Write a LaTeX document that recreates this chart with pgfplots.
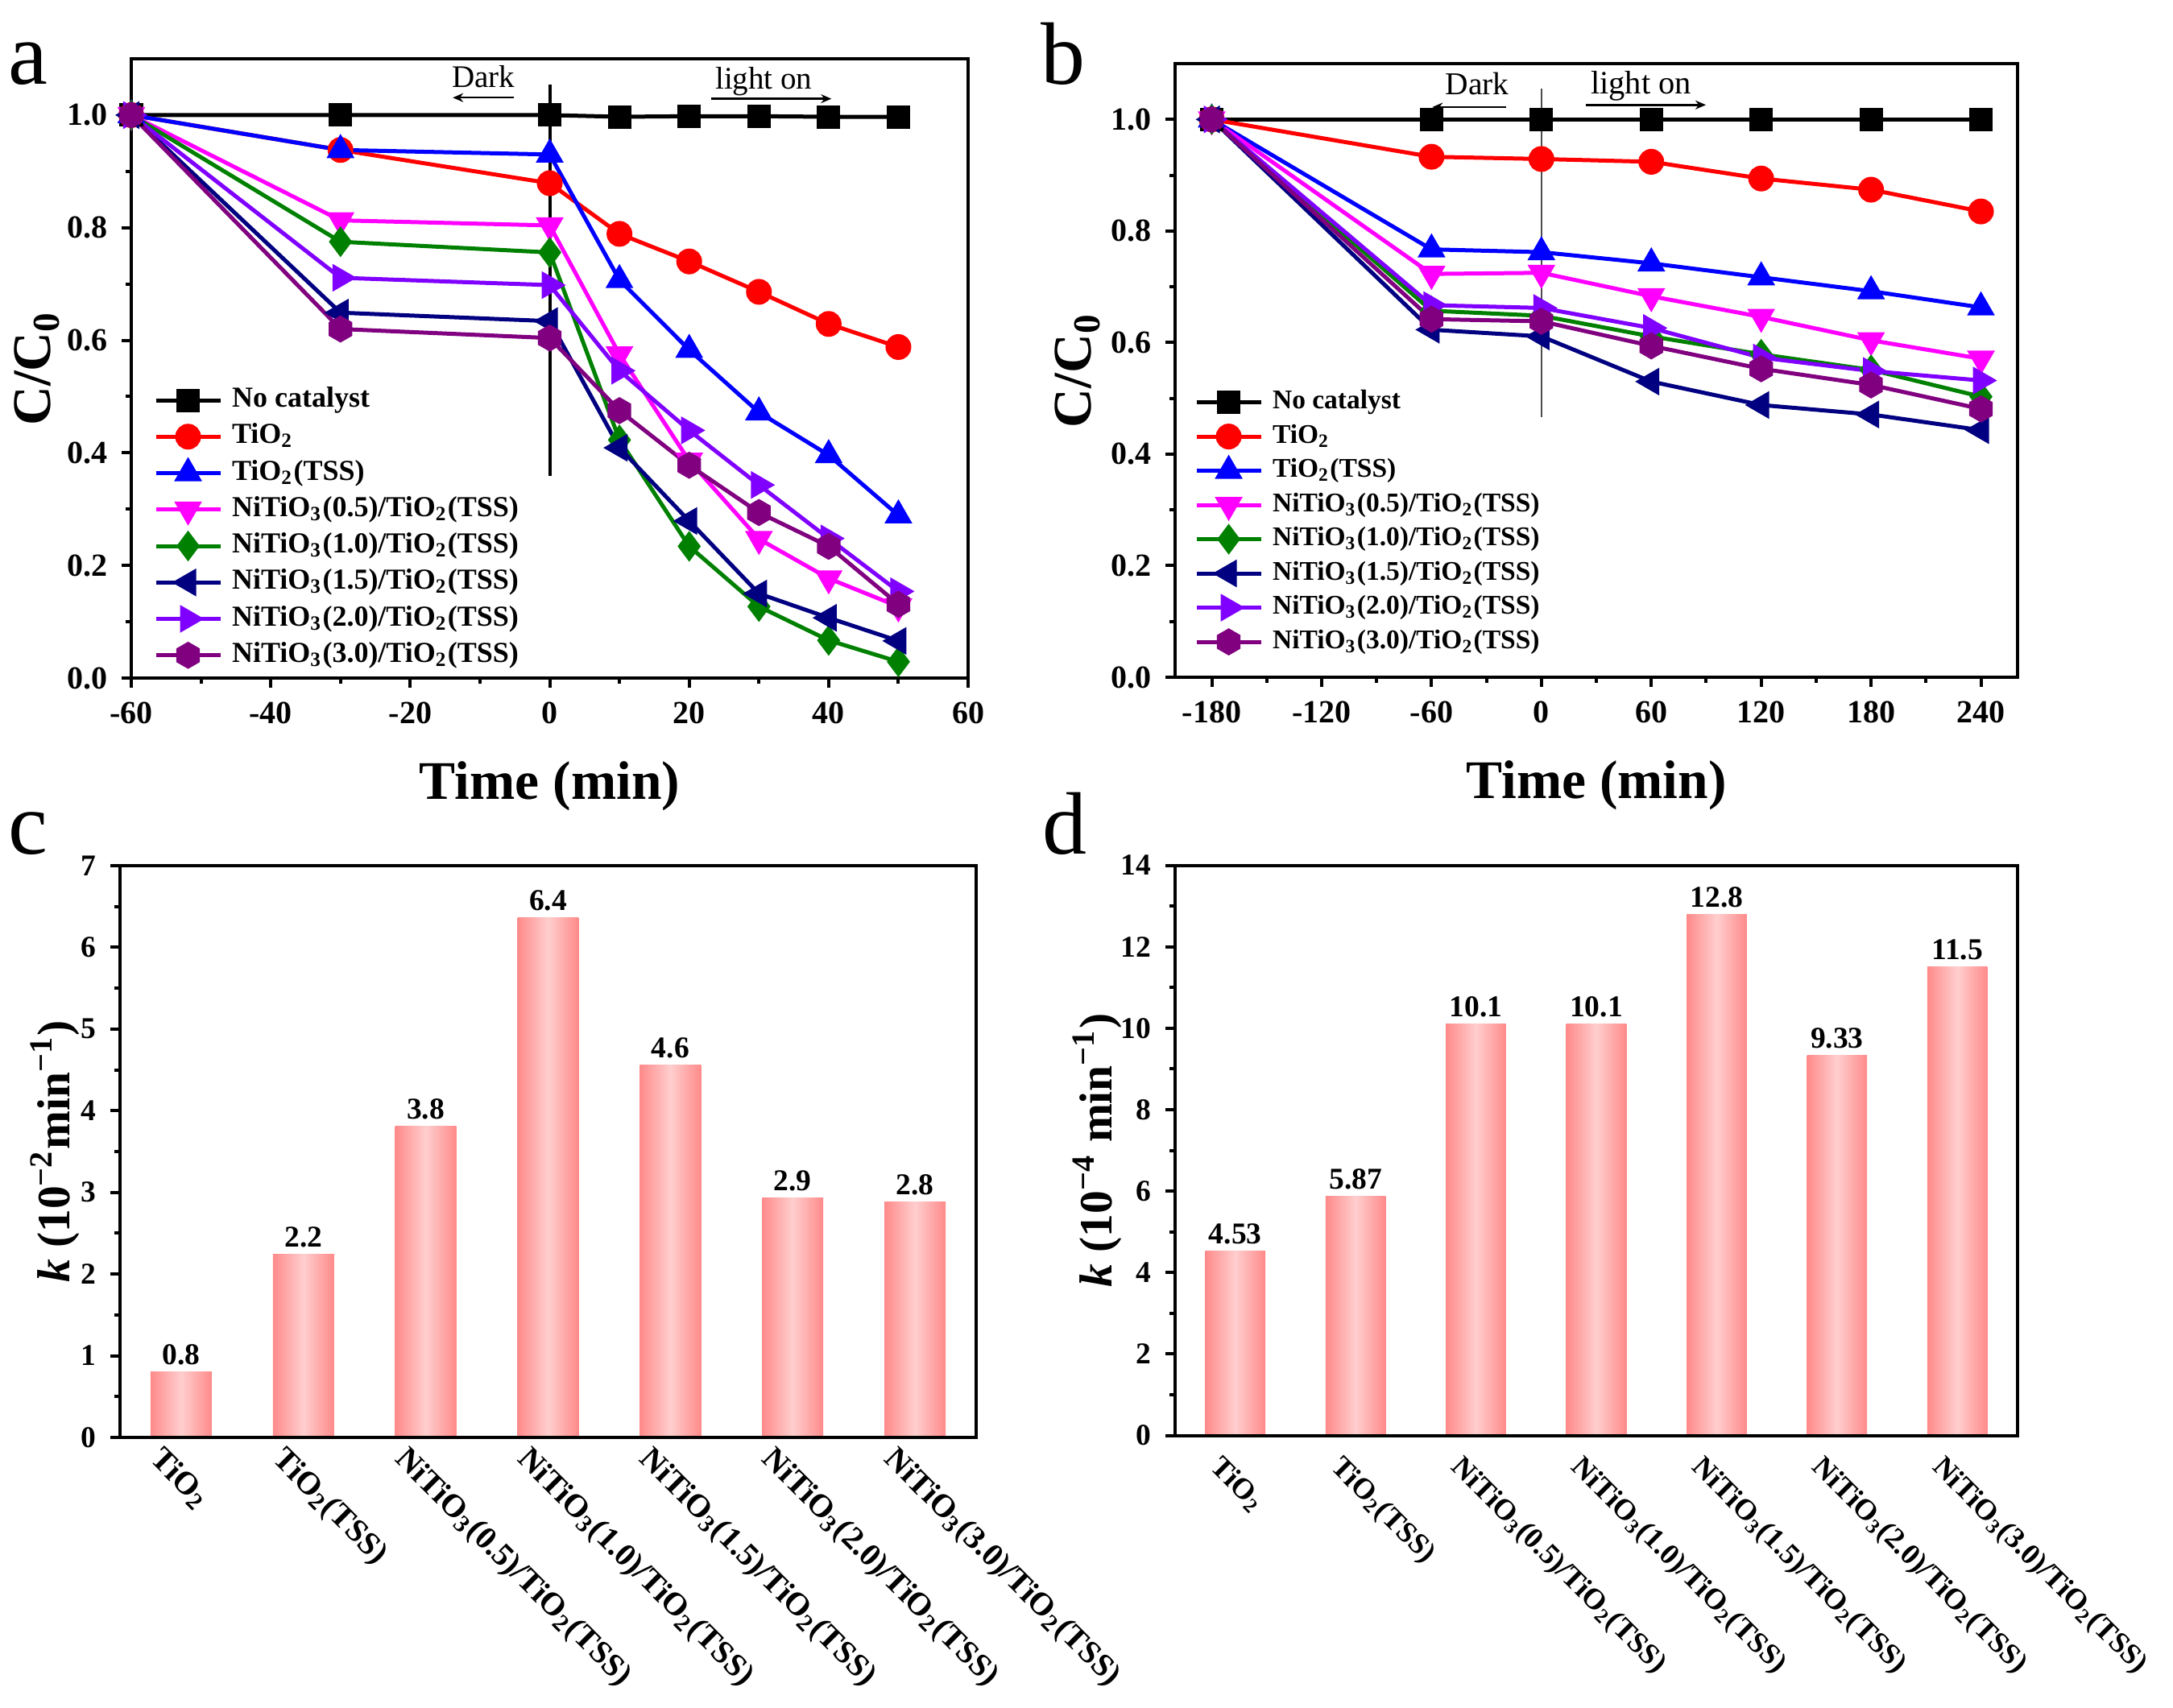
\documentclass[border=0pt]{standalone}
\usepackage{fontspec}
\setmainfont{Liberation Serif}
\usepackage{pgfplots}
\pgfplotsset{compat=1.18}
\usetikzlibrary{arrows.meta}

\definecolor{cNavy}{RGB}{0,0,128}
\definecolor{cGreen}{RGB}{0,128,0}
\definecolor{cViolet}{RGB}{128,0,255}
\definecolor{cPurple}{RGB}{128,0,128}
\definecolor{cMagenta}{RGB}{255,0,255}
\definecolor{cRed}{RGB}{255,0,0}
\definecolor{cBlue}{RGB}{0,0,255}
\definecolor{barEdge}{RGB}{255,138,138}
\definecolor{barMid}{RGB}{255,206,206}

% filled hexagon, pointy top
\pgfdeclareplotmark{hexagon*}{%
  \pgfpathmoveto{\pgfpointpolar{90}{\pgfplotmarksize}}%
  \pgfpathlineto{\pgfpointpolar{150}{\pgfplotmarksize}}%
  \pgfpathlineto{\pgfpointpolar{210}{\pgfplotmarksize}}%
  \pgfpathlineto{\pgfpointpolar{270}{\pgfplotmarksize}}%
  \pgfpathlineto{\pgfpointpolar{330}{\pgfplotmarksize}}%
  \pgfpathlineto{\pgfpointpolar{30}{\pgfplotmarksize}}%
  \pgfpathclose
  \pgfusepathqfillstroke}

\pgfplotsset{
  common/.style={
    scale only axis, clip=false,
    axis line style={line width=0.8pt},
    tick style={black, line width=0.8pt},
    tick align=outside, xtick pos=left, ytick pos=left,
    major tick length=2.4pt, minor tick length=1.4pt,
    /pgf/number format/assume math mode=true,
  },
  curves/.style={
    common,
    tick label style={font=\fontsize{8}{9}\selectfont\bfseries},
    minor x tick num=1, minor y tick num=1,
    ymin=0, ymax=1.1, ytick={0,0.2,...,1.0},
    yticklabel style={/pgf/number format/.cd, fixed, fixed zerofill, precision=1},
    xlabel={Time (min)}, ylabel={C/C\textsubscript{0}},
    label style={font=\fontsize{13.5}{14}\selectfont\bfseries},
    xlabel style={at={(axis description cs:0.5,0)}, anchor=base, yshift=-30pt},
    legend cell align=left,
    legend image code/.code={\draw[mark repeat=2, mark phase=2, ##1] plot coordinates {(0pt,0pt) (8pt,0pt) (16pt,0pt)};},
  },
  bars/.style={
    common, axis on top,
    xmin=-0.5, xmax=6.5, ymin=0,
    xtick={0,...,6}, minor y tick num=1,
    xtick style={draw=none},
    yticklabel style={font=\fontsize{7.5}{8}\selectfont\bfseries},
    label style={font=\fontsize{11.5}{12}\selectfont\bfseries},
  },
  s0/.style={black, line width=1pt, mark=square*, mark size=2.4pt},
  s1/.style={cRed, line width=1pt, mark=*, mark size=2.7pt},
  s2/.style={cBlue, line width=1pt, mark=triangle*, mark size=3pt},
  s3/.style={cMagenta, line width=1pt, mark=triangle*, mark size=3pt, mark options={rotate=180}},
  s4/.style={cGreen, line width=1pt, mark=diamond*, mark size=3pt},
  s5/.style={cNavy, line width=1pt, mark=triangle*, mark size=3pt, mark options={rotate=90}},
  s6/.style={cViolet, line width=1pt, mark=triangle*, mark size=3pt, mark options={rotate=-90}},
  s7/.style={cPurple, line width=1pt, mark=hexagon*, mark size=2.8pt},
  % one bar per \addplot so that each bar gets its own gradient
  shadebar/.style={ybar, bar shift=0pt, bar width=0.5, draw=none,
    left color=barEdge, right color=barEdge, middle color=barMid},
  vals/.style={draw=none, nodes near coords, point meta=explicit symbolic,
    every node near coord/.append style={font=\fontsize{7.5}{8}\selectfont\bfseries, anchor=south, inner sep=0pt, yshift=1.5pt}},
}

\begin{document}
\begin{tikzpicture}
\useasboundingbox (0,0) rectangle (539.6pt,424pt);

\node[font=\fontsize{22}{22}\selectfont, anchor=base] at (6.9pt,403pt) {a};
\node[font=\fontsize{22}{22}\selectfont, anchor=base] at (264pt,403pt) {b};
\node[font=\fontsize{22}{22}\selectfont, anchor=base] at (7pt,212pt) {c};
\node[font=\fontsize{22}{22}\selectfont, anchor=base] at (264.4pt,212pt) {d};

% ---- a ----
\begin{axis}[curves, at={(32.6pt,255.6pt)}, anchor=south west,
  width=207.8pt, height=153.8pt,
  xmin=-60, xmax=60, xtick={-60,-40,...,60},
  ylabel style={at={(axis description cs:-0.1126,0.5)}, anchor=center},
  legend style={draw=none, fill=none, at={(0.027,0.474)}, anchor=north west,
    inner sep=0pt, outer sep=0pt, row sep=1.25pt,
    font=\fontsize{7.2}{8}\selectfont\bfseries,
    nodes={inner sep=0.6pt, text height=5pt, text depth=1.6pt},
    /tikz/every odd column/.append style={column sep=1.8pt}},
]
\draw[line width=0.8pt] (axis cs:0,0.359) -- (axis cs:0,1.054);
\node[font=\fontsize{7.8}{9}\selectfont] at (axis cs:-9.5,1.068) {Dark};
\draw[line width=0.5pt, -{Stealth[length=2.6pt,width=2.2pt]}] (axis cs:-5.1,1.031) -- (axis cs:-13.9,1.031);
\node[font=\fontsize{7.8}{9}\selectfont] at (axis cs:30.7,1.060) {light on};
\draw[line width=0.5pt, -{Stealth[length=2.6pt,width=2.2pt]}] (axis cs:23.1,1.029) -- (axis cs:40.4,1.029);

\addplot[s0] coordinates {(-60,1.0)(-30,1.0)(0,1.0)(10,0.997)(20,0.998)(30,0.998)(40,0.997)(50,0.997)};
\addlegendentry{No catalyst}
\addplot[s1] coordinates {(-60,1.0)(-30,0.938)(0,0.879)(10,0.789)(20,0.740)(30,0.686)(40,0.629)(50,0.588)};
\addlegendentry{TiO\textsubscript{2}}
\addplot[s2] coordinates {(-60,1.0)(-30,0.938)(0,0.930)(10,0.707)(20,0.583)(30,0.472)(40,0.396)(50,0.289)};
\addlegendentry{TiO\textsubscript{2}(TSS)}
\addplot[s3] coordinates {(-60,1.0)(-30,0.813)(0,0.804)(10,0.575)(20,0.386)(30,0.247)(40,0.177)(50,0.127)};
\addlegendentry{NiTiO\textsubscript{3}(0.5)/TiO\textsubscript{2}(TSS)}
\addplot[s4] coordinates {(-60,1.0)(-30,0.775)(0,0.756)(10,0.423)(20,0.234)(30,0.127)(40,0.067)(50,0.029)};
\addlegendentry{NiTiO\textsubscript{3}(1.0)/TiO\textsubscript{2}(TSS)}
\addplot[s5] coordinates {(-60,1.0)(-30,0.649)(0,0.634)(10,0.409)(20,0.279)(30,0.150)(40,0.107)(50,0.066)};
\addlegendentry{NiTiO\textsubscript{3}(1.5)/TiO\textsubscript{2}(TSS)}
\addplot[s6] coordinates {(-60,1.0)(-30,0.711)(0,0.698)(10,0.546)(20,0.440)(30,0.343)(40,0.248)(50,0.154)};
\addlegendentry{NiTiO\textsubscript{3}(2.0)/TiO\textsubscript{2}(TSS)}
\addplot[s7] coordinates {(-60,1.0)(-30,0.620)(0,0.604)(10,0.475)(20,0.378)(30,0.294)(40,0.234)(50,0.131)};
\addlegendentry{NiTiO\textsubscript{3}(3.0)/TiO\textsubscript{2}(TSS)}
\end{axis}

% ---- b ----
\begin{axis}[curves, at={(291.8pt,255.8pt)}, anchor=south west,
  width=209.2pt, height=152.4pt,
  xmin=-200, xmax=260, xtick={-180,-120,...,240},
  ylabel style={at={(axis description cs:-0.1157,0.5)}, anchor=center},
  legend style={draw=none, fill=none, at={(0.023,0.473)}, anchor=north west,
    inner sep=0pt, outer sep=0pt, row sep=0.9pt,
    font=\fontsize{6.7}{8}\selectfont\bfseries,
    nodes={inner sep=0.6pt, text height=4.8pt, text depth=1.6pt},
    /tikz/every odd column/.append style={column sep=1.8pt}},
]
\draw[line width=0.4pt, black!70] (axis cs:0,0.467) -- (axis cs:0,1.055);
\node[font=\fontsize{7.9}{9}\selectfont] at (axis cs:-35,1.064) {Dark};
\draw[line width=0.5pt, -{Stealth[length=2.6pt,width=2.2pt]}] (axis cs:-19.1,1.022) -- (axis cs:-59.6,1.022);
\node[font=\fontsize{8.1}{9}\selectfont] at (axis cs:54.4,1.060) {light on};
\draw[line width=0.5pt, -{Stealth[length=2.6pt,width=2.2pt]}] (axis cs:24.1,1.026) -- (axis cs:89.8,1.026);

\addplot[s0] coordinates {(-180,1.0)(-60,1.0)(0,1.0)(60,1.0)(120,1.0)(180,1.0)(240,1.0)};
\addlegendentry{No catalyst}
\addplot[s1] coordinates {(-180,1.0)(-60,0.933)(0,0.929)(60,0.924)(120,0.894)(180,0.874)(240,0.835)};
\addlegendentry{TiO\textsubscript{2}}
\addplot[s2] coordinates {(-180,1.0)(-60,0.767)(0,0.762)(60,0.742)(120,0.717)(180,0.692)(240,0.663)};
\addlegendentry{TiO\textsubscript{2}(TSS)}
\addplot[s3] coordinates {(-180,1.0)(-60,0.723)(0,0.725)(60,0.683)(120,0.646)(180,0.604)(240,0.571)};
\addlegendentry{NiTiO\textsubscript{3}(0.5)/TiO\textsubscript{2}(TSS)}
\addplot[s4] coordinates {(-180,1.0)(-60,0.657)(0,0.648)(60,0.611)(120,0.579)(180,0.551)(240,0.503)};
\addlegendentry{NiTiO\textsubscript{3}(1.0)/TiO\textsubscript{2}(TSS)}
\addplot[s5] coordinates {(-180,1.0)(-60,0.623)(0,0.611)(60,0.530)(120,0.488)(180,0.471)(240,0.443)};
\addlegendentry{NiTiO\textsubscript{3}(1.5)/TiO\textsubscript{2}(TSS)}
\addplot[s6] coordinates {(-180,1.0)(-60,0.667)(0,0.662)(60,0.626)(120,0.573)(180,0.549)(240,0.532)};
\addlegendentry{NiTiO\textsubscript{3}(2.0)/TiO\textsubscript{2}(TSS)}
\addplot[s7] coordinates {(-180,1.0)(-60,0.642)(0,0.638)(60,0.594)(120,0.553)(180,0.524)(240,0.481)};
\addlegendentry{NiTiO\textsubscript{3}(3.0)/TiO\textsubscript{2}(TSS)}
\end{axis}

% ---- c ----
\begin{axis}[bars, at={(29.8pt,67pt)}, anchor=south west,
  width=212.6pt, height=142pt,
  ymax=7, ytick={0,...,7},
  xticklabels={TiO\textsubscript{2}, TiO\textsubscript{2}(TSS),
    NiTiO\textsubscript{3}(0.5)/TiO\textsubscript{2}(TSS),
    NiTiO\textsubscript{3}(1.0)/TiO\textsubscript{2}(TSS),
    NiTiO\textsubscript{3}(1.5)/TiO\textsubscript{2}(TSS),
    NiTiO\textsubscript{3}(2.0)/TiO\textsubscript{2}(TSS),
    NiTiO\textsubscript{3}(3.0)/TiO\textsubscript{2}(TSS)},
  xticklabel style={rotate=-45, anchor=north west, inner sep=0pt,
    font=\fontsize{8}{9}\selectfont\bfseries, xshift=-3.4pt, yshift=-2.2pt},
  ylabel={\textit{k} (10\textsuperscript{−2}min\textsuperscript{−1})},
  ylabel style={at={(axis description cs:-0.0762,0.5)}, anchor=center},
]
\addplot[shadebar] coordinates {(0,0.80)};
\addplot[shadebar] coordinates {(1,2.24)};
\addplot[shadebar] coordinates {(2,3.81)};
\addplot[shadebar] coordinates {(3,6.36)};
\addplot[shadebar] coordinates {(4,4.56)};
\addplot[shadebar] coordinates {(5,2.93)};
\addplot[shadebar] coordinates {(6,2.88)};
\addplot[vals] table[x=x, y=y, meta=lbl] {
x y lbl
0 0.80 0.8
1 2.24 2.2
2 3.81 3.8
3 6.36 6.4
4 4.56 4.6
5 2.93 2.9
6 2.88 2.8
};
\end{axis}

% ---- d ----
\begin{axis}[bars, at={(291.8pt,67.5pt)}, anchor=south west,
  width=209.2pt, height=141.6pt,
  ymax=14, ytick={0,2,...,14},
  xticklabels={TiO\textsubscript{2}, TiO\textsubscript{2}(TSS),
    NiTiO\textsubscript{3}(0.5)/TiO\textsubscript{2}(TSS),
    NiTiO\textsubscript{3}(1.0)/TiO\textsubscript{2}(TSS),
    NiTiO\textsubscript{3}(1.5)/TiO\textsubscript{2}(TSS),
    NiTiO\textsubscript{3}(2.0)/TiO\textsubscript{2}(TSS),
    NiTiO\textsubscript{3}(3.0)/TiO\textsubscript{2}(TSS)},
  xticklabel style={rotate=-45, anchor=north west, inner sep=0pt,
    font=\fontsize{7.3}{8}\selectfont\bfseries, xshift=-0.6pt, yshift=-3.4pt},
  ylabel={\textit{k} (10\textsuperscript{−4} min\textsuperscript{−1})},
  ylabel style={at={(axis description cs:-0.0927,0.5)}, anchor=center},
]
\addplot[shadebar] coordinates {(0,4.53)};
\addplot[shadebar] coordinates {(1,5.87)};
\addplot[shadebar] coordinates {(2,10.1)};
\addplot[shadebar] coordinates {(3,10.1)};
\addplot[shadebar] coordinates {(4,12.8)};
\addplot[shadebar] coordinates {(5,9.33)};
\addplot[shadebar] coordinates {(6,11.5)};
\addplot[vals] table[x=x, y=y, meta=lbl] {
x y lbl
0 4.53 4.53
1 5.87 5.87
2 10.1 10.1
3 10.1 10.1
4 12.8 12.8
5 9.33 9.33
6 11.5 11.5
};
\end{axis}
\end{tikzpicture}
\end{document}
